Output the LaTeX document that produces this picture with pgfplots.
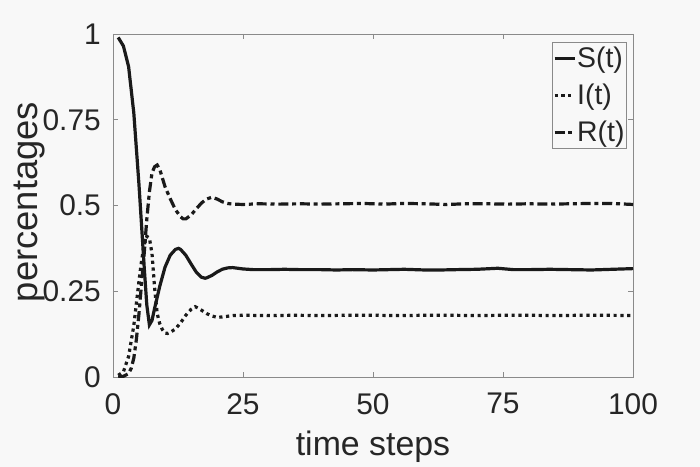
\documentclass[border=0pt]{standalone}
\usepackage{fontspec}
\setmainfont{Liberation Sans}
\usepackage{pgfplots}
\pgfplotsset{compat=1.18}
\definecolor{bg}{HTML}{F8F8F8}
\definecolor{axgray}{HTML}{8A8A8A}
\definecolor{txt}{HTML}{262626}
\definecolor{ln}{HTML}{1A1A1A}
\begin{document}
\begin{tikzpicture}
\fill[bg] (-113bp,-90bp) rectangle (587bp,377bp);
\begin{axis}[at={(0,0)}, anchor=south west,
  width=520bp, height=343bp, scale only axis,
  xmin=0, xmax=100, ymin=0, ymax=1,
  xtick={0,25,50,75,100}, xticklabels={0,25,50,75,100},
  ytick={0,0.25,0.5,0.75,1}, yticklabels={0,0.25,0.5,0.75,1},
  tick align=inside, major tick length=5bp,
  axis line style={axgray, line width=0.6bp},
  every tick/.style={axgray, line width=0.6bp},
  tick label style={font=\fontsize{30}{30}\selectfont, text=txt, inner sep=0pt},
  xticklabel style={anchor=north, yshift=-16bp},
  yticklabel style={anchor=east, xshift=-12bp},
  every axis x label/.style={at={(axis description cs:0.5,-0.230)}, anchor=base, font=\fontsize{34}{34}\selectfont, text=txt},
  every axis y label/.style={at={(axis description cs:-0.146,0.51)}, rotate=90, anchor=base, font=\fontsize{36.5}{36.5}\selectfont, text=txt},
  xlabel={time steps}, ylabel={percentages},
  axis background/.style={fill=bg},
  legend cell align=left,
  legend style={at={(0.988,0.977)}, anchor=north east, draw=axgray, line width=0.6bp, fill=bg,
    font=\fontsize{28.5}{28.5}\selectfont, text=txt, inner xsep=1bp, inner ysep=4bp, row sep=13bp,
    nodes={inner sep=1bp}},
  legend image code/.code={\draw[#1] (0bp,0bp) -- (20bp,0bp);},
]
\addplot[ln, line width=3.2bp] coordinates {
(1,0.99)(2,0.965)(3,0.905)(4,0.77)(5,0.56)(5.5,0.44)(6,0.32)(6.5,0.21)(7,0.152)(7.5,0.165)(8,0.2)(9,0.265)(10,0.32)(11,0.355)(12,0.372)(12.6,0.375)(13,0.372)(14,0.355)(15,0.33)(16,0.306)(17,0.291)(17.7,0.288)(18,0.289)(19,0.296)(20,0.306)(21,0.314)(22,0.318)(23,0.319)(24,0.317)(25,0.315)(27,0.313)(30,0.313)(33,0.314)(36,0.313)(40,0.313)(43,0.312)(46,0.313)(50,0.312)(53,0.313)(56,0.314)(60,0.312)(63,0.312)(66,0.313)(70,0.314)(74,0.317)(77,0.313)(80,0.313)(84,0.314)(88,0.313)(92,0.312)(96,0.314)(100,0.316)
};
\addlegendentry{S(t)}
\addplot[ln, line width=3.2bp, dash pattern=on 3.2bp off 3.6bp] coordinates {
(1,0.005)(2,0.015)(3,0.06)(4,0.15)(5,0.28)(5.5,0.34)(6,0.385)(6.5,0.41)(7,0.405)(7.5,0.36)(8,0.26)(8.5,0.185)(9,0.155)(9.5,0.138)(10,0.128)(10.5,0.127)(11,0.13)(12,0.14)(13,0.158)(14,0.18)(15,0.197)(15.8,0.205)(16.5,0.2)(17,0.195)(18,0.185)(19,0.178)(20,0.174)(21,0.175)(22,0.177)(23,0.179)(25,0.18)(30,0.179)(35,0.18)(40,0.179)(45,0.18)(50,0.18)(55,0.179)(60,0.18)(65,0.18)(70,0.179)(75,0.18)(80,0.18)(85,0.179)(90,0.18)(95,0.18)(100,0.179)
};
\addlegendentry{I(t)}
\addplot[ln, line width=3.2bp, dash pattern=on 10bp off 3.8bp on 4bp off 3.8bp] coordinates {
(1,0.0)(2,0.002)(3,0.01)(3.5,0.025)(4,0.055)(4.5,0.11)(5,0.185)(5.5,0.275)(6,0.36)(6.5,0.46)(7,0.54)(7.5,0.595)(8,0.613)(8.5,0.618)(9,0.605)(9.5,0.58)(10,0.555)(11,0.52)(12,0.488)(13,0.467)(13.5,0.461)(14,0.461)(15,0.472)(16,0.49)(17,0.507)(18,0.519)(19,0.524)(20,0.519)(21,0.511)(22,0.506)(23,0.504)(25,0.503)(28,0.505)(32,0.504)(36,0.505)(40,0.504)(44,0.505)(48,0.506)(52,0.504)(56,0.506)(60,0.505)(64,0.503)(68,0.505)(72,0.505)(76,0.504)(80,0.505)(84,0.504)(88,0.505)(92,0.506)(96,0.506)(100,0.503)
};
\addlegendentry{R(t)}
\end{axis}
\pgfresetboundingbox
\path (-113bp,-90bp) rectangle (587bp,377bp);
\end{tikzpicture}
\end{document}
